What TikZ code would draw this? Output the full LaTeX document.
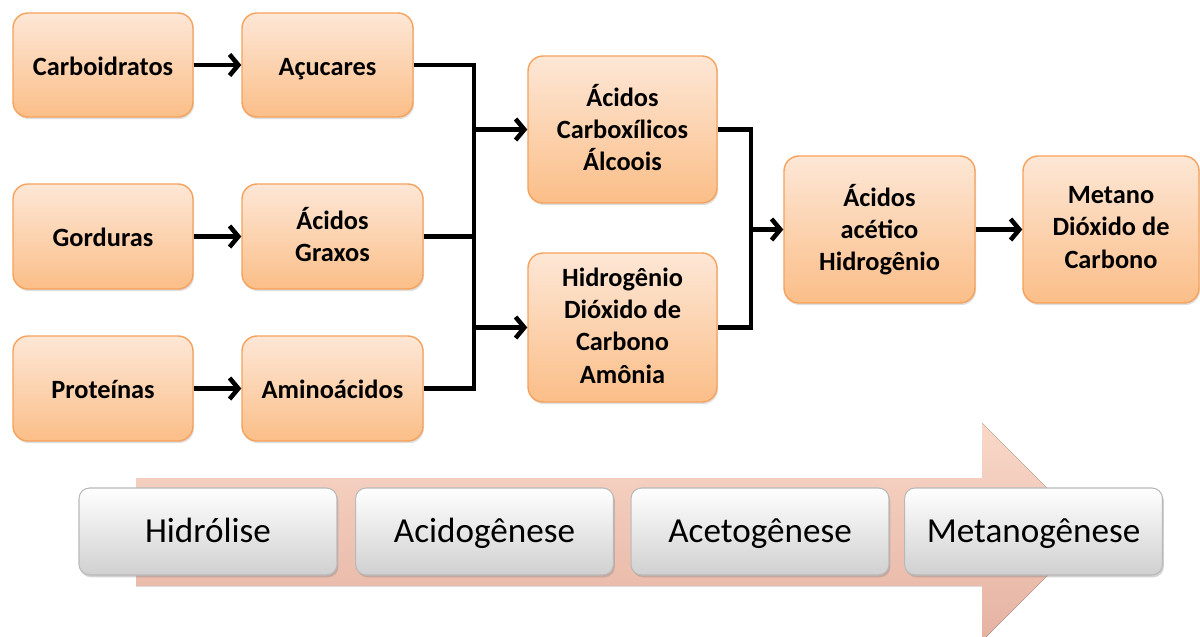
\documentclass[tikz,border=0pt]{standalone}
\usepackage{fontspec}
\setmainfont{Carlito}
\usetikzlibrary{arrows.meta,shadows}
\definecolor{boxtop}{RGB}{253,231,214}
\definecolor{boxbot}{RGB}{251,190,136}
\definecolor{boxline}{RGB}{246,162,92}
\definecolor{arrtop}{RGB}{249,216,200}
\definecolor{arrbot}{RGB}{229,178,162}
\definecolor{stagebot}{RGB}{208,208,208}
\newcommand{\boxstrut}{\rule[-2.5pt]{0pt}{16.5pt}}
\begin{document}
\begin{tikzpicture}[x=0.02cm,y=-0.02cm]
\tikzstyle{orangebox} = [draw=boxline,line width=0.8pt,rounded corners=8.5pt,top color=boxtop,bottom color=boxbot,align=center,inner sep=0pt,font=\bfseries\fontsize{15pt}{18.4pt}\selectfont,execute at begin node=\boxstrut,execute at end node=\boxstrut,drop shadow={opacity=0.25,shadow xshift=0.6pt,shadow yshift=-1.2pt}]
\tikzstyle{stagebox} = [draw=gray!55,line width=0.6pt,rounded corners=6pt,top color=white,bottom color=stagebot,minimum width=5.16cm,minimum height=1.74cm,text height=17pt,text depth=4.2pt,font=\fontsize{20pt}{24pt}\selectfont,drop shadow={opacity=0.35,shadow xshift=0.8pt,shadow yshift=-1.3pt}]
\tikzstyle{flow} = [line width=2.6pt]
\tikzstyle{flowarr} = [flow,-{Straight Barb[length=5pt,width=12pt]}]
  \useasboundingbox (0,0) rectangle (1200,636);
  %phase arrow
  \fill[top color=arrtop,bottom color=arrbot] (136,478) -- (982,478) -- (982,423) -- (1091,532)
    -- (982,641) -- (982,586) -- (136,586) -- cycle;
  %phases
  \node[stagebox] (hidrolise) at (208,531.5) {Hidrólise};
  \node[stagebox] (acidog)    at (484.5,531.5) {Acidogênese};
  \node[stagebox] (acetog)    at (760,531.5) {Acetogênese};
  \node[stagebox] (metanog)   at (1033.5,531.5) {Metanogênese};
  %hydrolysis
  \node[orangebox,minimum width=3.6cm,minimum height=2.08cm]  (carb)   at (103,65)      {Carboidratos};
  \node[orangebox,minimum width=3.42cm,minimum height=2.08cm] (acuc)   at (327.5,65)    {Açucares};
  \node[orangebox,minimum width=3.6cm,minimum height=2.1cm]   (gord)   at (103,236.5)   {Gorduras};
  \node[orangebox,minimum width=3.62cm,minimum height=2.1cm]  (graxos) at (332.5,236.5) {Ácidos\\Graxos};
  \node[orangebox,minimum width=3.6cm,minimum height=2.1cm]   (prot)   at (103,388.5)   {Proteínas};
  \node[orangebox,minimum width=3.62cm,minimum height=2.1cm]  (amino)  at (332.5,388.5) {Aminoácidos};
    %acidogenesis
    \node[orangebox,minimum width=3.78cm,minimum height=2.94cm] (carbox) at (622.5,129.5) {Ácidos\\Carboxílicos\\Álcoois};
    \node[orangebox,minimum width=3.78cm,minimum height=2.98cm] (hidro)  at (622.5,327.5) {Hidrogênio\\Dióxido de\\Carbono\\Amônia};
      %acetogenesis, methanogenesis
      \node[orangebox,minimum width=3.82cm,minimum height=2.94cm] (acetico) at (879.5,229.5) {Ácidos\\acético\\Hidrogênio};
      \node[orangebox,minimum width=3.52cm,minimum height=2.94cm] (metano)  at (1111,229.5)  {Metano\\Dióxido de\\Carbono};
  %arrows
  \draw[flowarr] (carb) -- (acuc);
  \draw[flowarr] (gord) -- (graxos);
  \draw[flowarr] (prot) -- (amino);
  \coordinate (busL) at (474,0);
  \coordinate (busR) at (751,0);
  \draw[flow] (acuc.east) -| (busL |- amino.east) -- (amino.east);
  \draw[flow] (graxos.east) -- (graxos.east -| busL);
  \draw[flowarr] (busL |- carbox.west) -- (carbox.west);
  \draw[flowarr] (busL |- hidro.west) -- (hidro.west);
  \draw[flow] (carbox.east) -| (busR |- hidro.east) -- (hidro.east);
  \draw[flowarr] (busR |- acetico.west) -- (acetico.west);
  \draw[flowarr] (acetico) -- (metano);
\end{tikzpicture}
\end{document}
